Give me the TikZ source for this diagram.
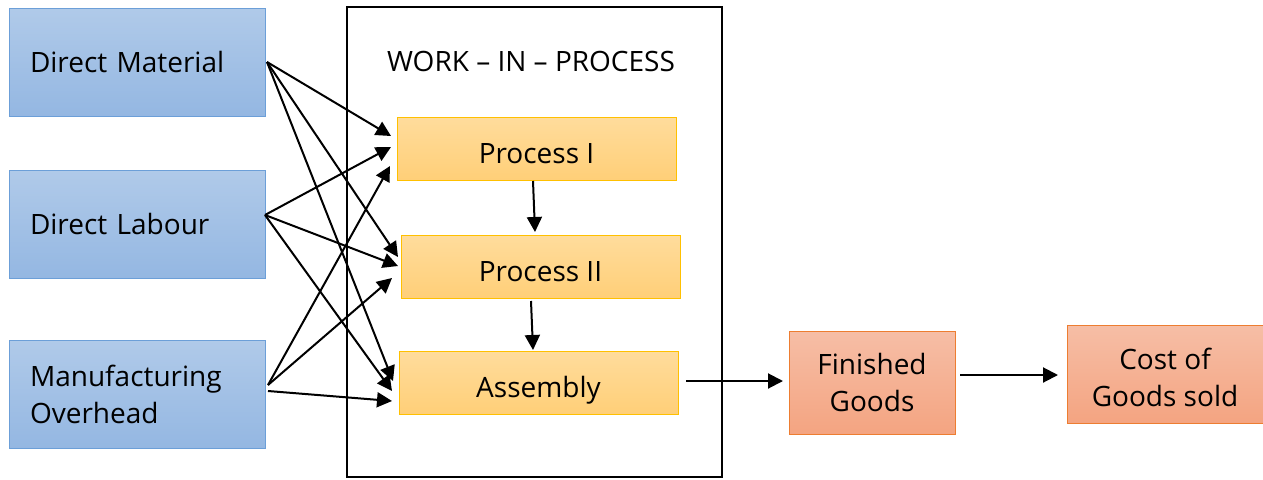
\documentclass[tikz,border=0pt]{standalone}
\usepackage{fontspec}
\setmainfont{Open Sans}
\usetikzlibrary{arrows.meta}
\definecolor{blueTop}{HTML}{B0CAE9}
\definecolor{blueBot}{HTML}{94B7E2}
\definecolor{blueEdge}{HTML}{6C9FD8}
\definecolor{yelTop}{HTML}{FFDC9C}
\definecolor{yelBot}{HTML}{FFCF78}
\definecolor{yelEdge}{HTML}{FFC000}
\definecolor{salTop}{HTML}{F6BEA6}
\definecolor{salBot}{HTML}{F4A481}
\definecolor{salEdge}{HTML}{ED7D31}
\tikzset{
  x=1pt, y=-1pt,
  label font/.style={font=\fontsize{28}{37}\selectfont},
  box/.style={draw, line width=1pt, inner sep=0pt, label font, align=center},
  inbox/.style={box, draw=blueEdge, top color=blueTop, bottom color=blueBot, minimum width=256pt, minimum height=108pt, align=left, text width=214pt},
  procbox/.style={box, draw=yelEdge, top color=yelTop, bottom color=yelBot, minimum width=279pt, minimum height=63pt, text height=30pt, text depth=0pt},
  outbox/.style={box, draw=salEdge, top color=salTop, bottom color=salBot},
  flow/.style={line width=2pt, -{Triangle[length=15pt,width=15pt]}},
}
\begin{document}
\begin{tikzpicture}
\useasboundingbox (0,0) rectangle (1263,479);
% work-in-process frame
\draw[line width=2pt] (347,7) rectangle (722,477);
\node[label font] (wip) at (531,61) {WORK – IN – PROCESS};

% cost inputs
\node[inbox] (dm) at (137,62) {Direct Material};
\node[inbox] (dl) at (137,224) {Direct Labour};
\node[inbox] (mo) at (137,394) {Manufacturing\\Overhead};

% production stages
\node[procbox] (p1) at (536.5,148.5) {Process I};
\node[procbox] (p2) at (540.5,266.5) {Process II};
\node[procbox] (as) at (538.5,382.5) {Assembly};

% outputs
\node[outbox, minimum width=166pt, minimum height=103pt] (fg) at (872,382.5) {Finished\\Goods};
\node[outbox, minimum width=200pt, minimum height=98pt, anchor=west] (cg) at (1067,374) {};
\node[label font, align=center] (cgt) at (1165,377) {Cost of\\Goods sold};

% connection points
\coordinate (dmo) at (267,62);
\coordinate (dlo) at (265,215);
\coordinate (moa) at (268,385);
\coordinate (mob) at (268,391);
\coordinate (p1a) at (391,136);
\coordinate (p1b) at (391,147);
\coordinate (p1c) at (390,166);
\coordinate (p2a) at (398,257);
\coordinate (p2b) at (398,266);
\coordinate (p2c) at (392,278);
\coordinate (asa) at (393,381);
\coordinate (asb) at (392,391);
\coordinate (asc) at (392,401);

\draw[flow] (dmo) -- (p1a);
\draw[flow] (dmo) -- (p2a);
\draw[flow] (dmo) -- (asa);
\draw[flow] (dlo) -- (p1b);
\draw[flow] (dlo) -- (p2b);
\draw[flow] (dlo) -- (asb);
\draw[flow] (moa) -- (p1c);
\draw[flow] (moa) -- (p2c);
\draw[flow] (mob) -- (asc);

\coordinate (p1s) at (533,181);
\coordinate (p2e) at (535,232);
\coordinate (p2s) at (531,301);
\coordinate (ase) at (533,350);
\coordinate (ass) at (686,381);
\coordinate (fge) at (783,381);
\coordinate (fgs) at (960,375);
\coordinate (cge) at (1058,375);
\draw[flow] (p1s) -- (p2e);
\draw[flow] (p2s) -- (ase);
\draw[flow] (ass) -- (fge);
\draw[flow] (fgs) -- (cge);
\end{tikzpicture}
\end{document}
